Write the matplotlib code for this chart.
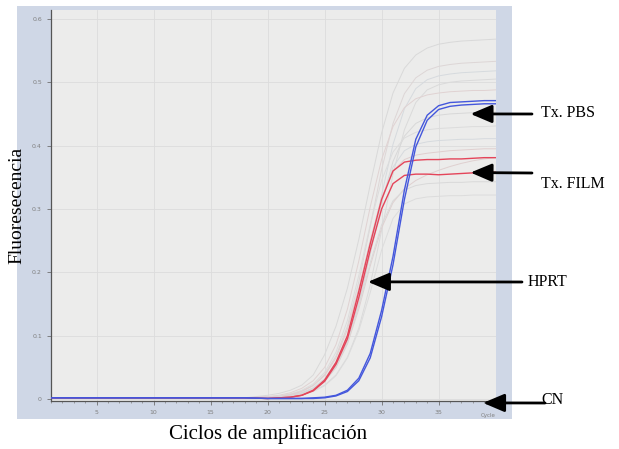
"""
qPCR amplification curves (Fluorescencia vs ciclos)
"""
import matplotlib.pyplot as plt
from matplotlib.patches import Rectangle

cycles = [1, 10, 15, 18] + list(range(20, 41))
base = [0.002, 0.002, 0.002, 0.002]

# red (HPRT) and blue curves
red_hi = base + [0.001, 0.002, 0.003, 0.006, 0.014, 0.03, 0.058, 0.1, 0.17, 0.245, 0.315,
                 0.36, 0.374, 0.377, 0.378, 0.378, 0.379, 0.379, 0.38, 0.381, 0.381]
red_lo = base + [0.001, 0.002, 0.003, 0.006, 0.013, 0.028, 0.055, 0.095, 0.16, 0.235, 0.3,
                 0.34, 0.353, 0.355, 0.355, 0.354, 0.355, 0.356, 0.357, 0.357, 0.358]
blue_hi = base + [0.001, 0.001, 0.001, 0.001, 0.002, 0.003, 0.006, 0.014, 0.033, 0.072, 0.14,
                  0.225, 0.33, 0.41, 0.448, 0.463, 0.468, 0.469, 0.47, 0.471, 0.471]
blue_lo = base + [0.001, 0.001, 0.001, 0.001, 0.001, 0.002, 0.005, 0.012, 0.029, 0.065, 0.13,
                  0.212, 0.315, 0.398, 0.44, 0.457, 0.462, 0.464, 0.465, 0.466, 0.466]

# other samples (faint)
gray_curves = [
    base + [0.006, 0.009, 0.014, 0.022, 0.038, 0.07, 0.115, 0.175, 0.252, 0.338, 0.42,
            0.483, 0.522, 0.543, 0.554, 0.56, 0.563, 0.565, 0.566, 0.567, 0.568],
    base + [0.003, 0.005, 0.008, 0.013, 0.022, 0.039, 0.068, 0.115, 0.185, 0.272, 0.362,
            0.435, 0.482, 0.507, 0.519, 0.525, 0.528, 0.53, 0.531, 0.532, 0.533],
    base + [0.003, 0.004, 0.006, 0.01, 0.017, 0.03, 0.053, 0.092, 0.152, 0.232, 0.322,
            0.402, 0.458, 0.49, 0.504, 0.51, 0.513, 0.515, 0.516, 0.517, 0.518],
    base + [0.002, 0.003, 0.005, 0.008, 0.013, 0.022, 0.038, 0.066, 0.112, 0.18, 0.266,
            0.355, 0.425, 0.468, 0.488, 0.496, 0.5, 0.502, 0.503, 0.504, 0.505],
    base + [0.004, 0.006, 0.01, 0.017, 0.029, 0.05, 0.086, 0.142, 0.218, 0.303, 0.378,
            0.43, 0.46, 0.474, 0.48, 0.483, 0.485, 0.486, 0.487, 0.487, 0.488],
    base + [0.002, 0.003, 0.005, 0.009, 0.016, 0.028, 0.05, 0.088, 0.148, 0.228, 0.31,
            0.375, 0.415, 0.435, 0.444, 0.448, 0.45, 0.451, 0.452, 0.452, 0.453],
    base + [0.003, 0.005, 0.008, 0.014, 0.024, 0.042, 0.074, 0.124, 0.195, 0.275, 0.345,
            0.39, 0.412, 0.421, 0.425, 0.427, 0.428, 0.429, 0.43, 0.43, 0.431],
    base + [0.002, 0.003, 0.006, 0.01, 0.018, 0.032, 0.058, 0.1, 0.163, 0.24, 0.314,
            0.366, 0.392, 0.402, 0.406, 0.408, 0.409, 0.41, 0.41, 0.411, 0.411],
    base + [0.003, 0.004, 0.007, 0.012, 0.021, 0.037, 0.065, 0.11, 0.175, 0.25, 0.318,
            0.36, 0.378, 0.385, 0.388, 0.39, 0.392, 0.393, 0.394, 0.395, 0.395],
    base + [0.002, 0.003, 0.005, 0.009, 0.016, 0.028, 0.05, 0.087, 0.142, 0.21, 0.27,
            0.31, 0.332, 0.345, 0.354, 0.361, 0.367, 0.372, 0.376, 0.379, 0.381],
    base + [0.002, 0.003, 0.005, 0.009, 0.016, 0.029, 0.052, 0.09, 0.147, 0.215, 0.275,
            0.313, 0.33, 0.337, 0.34, 0.341, 0.342, 0.342, 0.343, 0.343, 0.343],
    base + [0.002, 0.003, 0.004, 0.007, 0.012, 0.021, 0.037, 0.065, 0.108, 0.168, 0.235,
            0.285, 0.308, 0.316, 0.319, 0.32, 0.321, 0.321, 0.322, 0.322, 0.322],
]
gray_colors = ['#d9d9d9', '#ddd6d6', '#d6dade', '#dadada', '#e0d2d2', '#d8d8d8',
               '#dcdcdc', '#d6dade', '#e0cfcf', '#dfd0d0', '#d9d9d9', '#dcdcdc']

x_ticks = [5, 10, 15, 20, 25, 30, 35]
y_ticks = [0, 0.1, 0.2, 0.3, 0.4, 0.5, 0.6]
y_ticklabels = ['0', '0.1', '0.2', '0.3', '0.4', '0.5', '0.6']

# arrows: label, tip (cycle, value), tail in figure pixels, text position
arrows = [
    ('Tx. PBS', (37.8, 0.45), (532, 335), (541, 336)),
    ('Tx. FILM', (37.8, 0.3575), (532, 276), (541, 265)),
    ('HPRT', (28.8, 0.185), (522, 167), (528, 167)),
    ('CN', (38.9, -0.006), (545, 46), (541, 49)),
]

fig = plt.figure(figsize=(6.19, 4.49), dpi=100)
fig.patch.set_facecolor('white')

# light blue panel of the screenshot
fig.add_artist(Rectangle((17 / 619, 30 / 449), 495 / 619, 413 / 449,
                         transform=fig.transFigure, facecolor='#cfd7e6',
                         edgecolor='none', zorder=0))

ax = fig.add_axes([51 / 619, 48 / 449, 444.6 / 619, 391 / 449])
ax.set_facecolor('#ececeb')

for vals, col in zip(gray_curves, gray_colors):
    ax.plot(cycles, vals, color=col, lw=0.7, zorder=2)

ax.plot(cycles, red_hi, color='#e4455a', lw=1.0, zorder=3)
ax.plot(cycles, red_lo, color='#e4455a', lw=1.0, zorder=3)
ax.plot(cycles, blue_hi, color='#4457dc', lw=1.0, zorder=4)
ax.plot(cycles, blue_lo, color='#4457dc', lw=1.0, zorder=4)

ax.set_xlim(1, 40)
ax.set_ylim(-0.003, 0.614)
ax.set_xticks(x_ticks)
ax.set_xticks(range(1, 41), minor=True)
ax.set_yticks(y_ticks)
ax.set_yticklabels(y_ticklabels)
ax.grid(True, color='#dcdcdc', lw=0.6)
ax.set_axisbelow(True)
ax.tick_params(labelsize=4.5, labelcolor='#808080', colors='#707070', length=3, width=0.6)
ax.tick_params(which='minor', length=1.5, width=0.5, colors='#808080')
for side in ['top', 'right']:
    ax.spines[side].set_visible(False)
for side in ['left', 'bottom']:
    ax.spines[side].set_color('#555555')
    ax.spines[side].set_linewidth(0.9)

fig.text(488 / 619, 1 - 415 / 449, 'Cycle', fontsize=4, color='#808080', ha='center', va='center')

serif = 'Liberation Serif'
fig.text(17 / 619, 1 - 205 / 449, 'Fluoresecencia', rotation=90, family=serif,
         fontsize=14, ha='center', va='center')
fig.text(268 / 619, 1 - 434 / 449, 'Ciclos de amplificación', family=serif,
         fontsize=15, ha='center', va='center')

for label, tip, tail, pos in arrows:
    ax.annotate('', xy=tip, xycoords='data', xytext=tail, textcoords='figure pixels',
                arrowprops=dict(arrowstyle='-|>,head_length=1.3,head_width=0.55',
                                mutation_scale=10, lw=2, color='black',
                                shrinkA=0, shrinkB=0),
                annotation_clip=False, zorder=10)
    fig.text(pos[0] / 619, pos[1] / 449, label, family=serif, fontsize=11.5,
             ha='left', va='center', zorder=11)

plt.savefig('out.png', dpi=100)
